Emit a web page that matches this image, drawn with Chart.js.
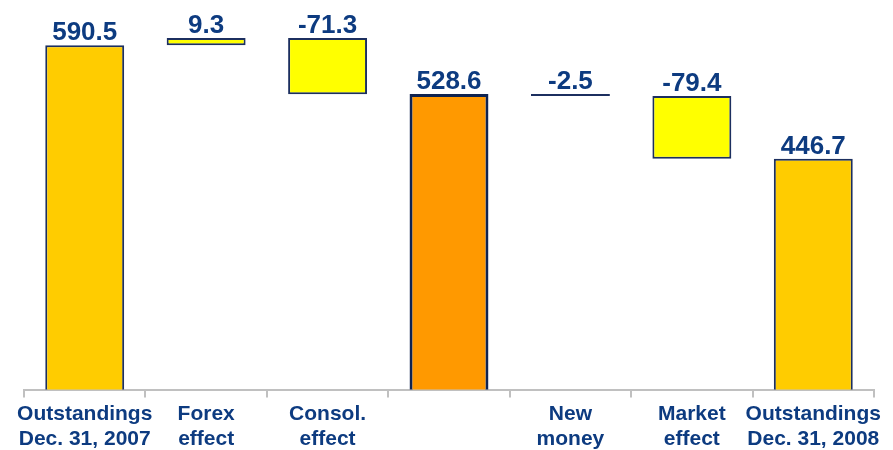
<!DOCTYPE html>
<html>
<head>
<meta charset="utf-8">
<script src="https://cdn.jsdelivr.net/npm/chart.js@4/dist/chart.umd.min.js"></script>
<style>
  html, body { margin: 0; padding: 0; background: #ffffff; overflow: hidden; }
  #wrap { width: 893px; height: 450px; }
</style>
</head>
<body>
<div id="wrap"><canvas id="waterfall"></canvas></div>
<script>
// Categories (two-line labels) and values
const categories = [
    ['Outstandings', 'Dec. 31, 2007'],
    ['Forex', 'effect'],
    ['Consol.', 'effect'],
    '',
    ['New', 'money'],
    ['Market', 'effect'],
    ['Outstandings', 'Dec. 31, 2008']
];
const values = [590.5, 9.3, -71.3, 528.6, -2.5, -79.4, 446.7];
const isTotal = [true, false, false, true, false, false, true];
const valueLabels = ['590.5', '9.3', '-71.3', '528.6', '-2.5', '-79.4', '446.7'];

// Axis range (the value axis is hidden, it does not start at zero)
const yMin = 154;
const yMax = 620;

const navy = '#1c2f5f';
const barColors = ['#FFCC00', '#FFFF00', '#FFFF00', '#FF9900', navy, '#FFFF00', '#FFCC00'];
const borderColors = [navy, navy, navy, '#0f2350', navy, navy, navy];
const borderWidths = [2, 2, 2, 3, 2, 2, 2];

// Build floating [start, end] ranges for the waterfall
const ranges = [];
let running = 0;
values.forEach((v, i) => {
    if (isTotal[i]) {
        ranges.push([0, v]);
        running = v;
    } else {
        ranges.push([running, running + v]);
        running = running + v;
    }
});

// Draws the value above each bar
const valueLabelPlugin = {
    id: 'valueLabels',
    afterDatasetsDraw(chart) {
        const ctx = chart.ctx;
        const meta = chart.getDatasetMeta(0);
        const yScale = chart.scales.y;
        ctx.save();
        ctx.font = 'bold 26px "Liberation Sans", Arial, sans-serif';
        ctx.fillStyle = '#0d3b80';
        ctx.textAlign = 'center';
        ctx.textBaseline = 'alphabetic';
        meta.data.forEach((bar, i) => {
            const top = Math.max(ranges[i][0], ranges[i][1]);
            const y = yScale.getPixelForValue(top);
            ctx.fillText(valueLabels[i], bar.x, y - 5);
        });
        ctx.restore();
    }
};

const ctx = document.getElementById('waterfall').getContext('2d');
new Chart(ctx, {
    type: 'bar',
    data: {
        labels: categories,
        datasets: [{
            data: ranges,
            backgroundColor: barColors,
            borderColor: borderColors,
            borderWidth: borderWidths,
            borderSkipped: false,
            barPercentage: 0.65,
            categoryPercentage: 1.0
        }]
    },
    options: {
        responsive: true,
        maintainAspectRatio: false,
        animation: false,
        layout: {
            padding: { left: 24, right: 19, top: 22, bottom: -6 }
        },
        plugins: {
            legend: { display: false },
            tooltip: { enabled: false }
        },
        scales: {
            x: {
                grid: {
                    drawOnChartArea: false,
                    color: '#c0c0c0',
                    lineWidth: 2,
                    tickLength: 8
                },
                border: { color: '#c0c0c0', width: 2 },
                ticks: {
                    color: '#0d3b80',
                    maxRotation: 0,
                    autoSkip: false,
                    padding: 4,
                    font: { family: '"Liberation Sans", Arial, sans-serif', size: 21, weight: 'bold', lineHeight: 1.2 }
                }
            },
            y: {
                display: false,
                min: yMin,
                max: yMax
            }
        }
    },
    plugins: [valueLabelPlugin]
});
</script>
</body>
</html>
